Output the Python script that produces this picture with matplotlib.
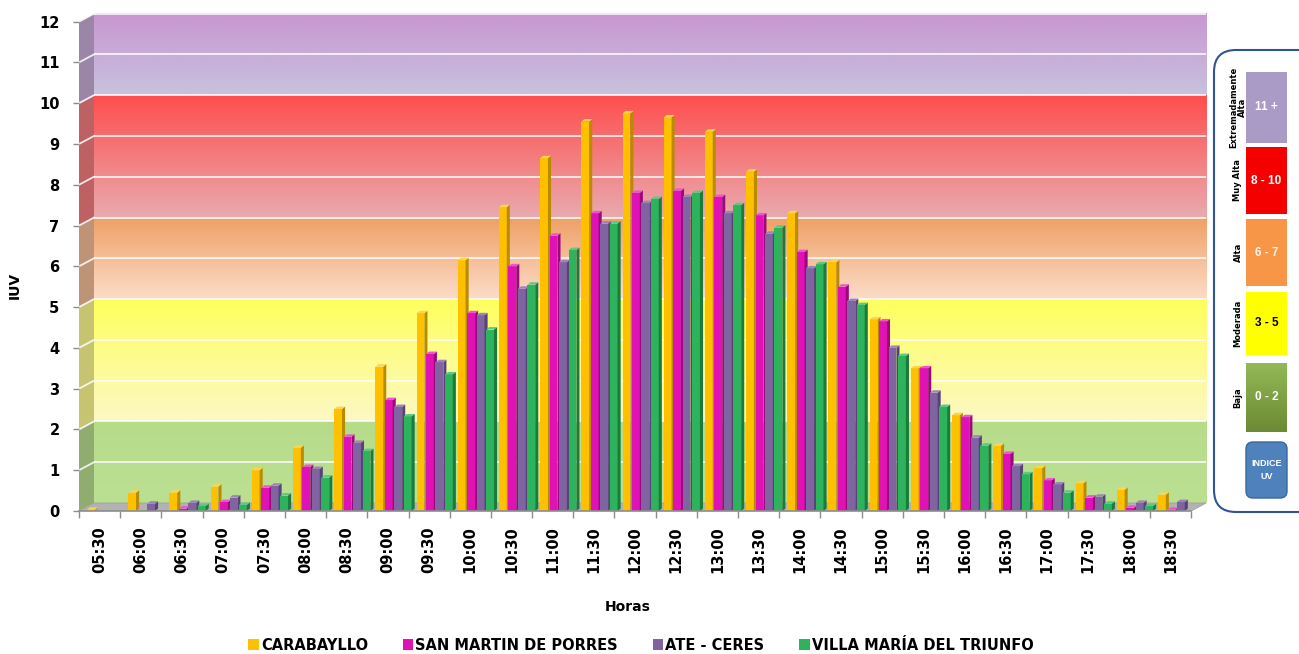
import numpy as np
import matplotlib
matplotlib.use("Agg")
import matplotlib.pyplot as plt
from matplotlib.patches import Polygon, Rectangle, FancyBboxPatch, Patch
from matplotlib.colors import to_rgb

# ---------------- data ----------------
hours = ["05:30", "06:00", "06:30", "07:00", "07:30", "08:00", "08:30", "09:00", "09:30",
         "10:00", "10:30", "11:00", "11:30", "12:00", "12:30", "13:00", "13:30", "14:00",
         "14:30", "15:00", "15:30", "16:00", "16:30", "17:00", "17:30", "18:00", "18:30"]

carabayllo = [0.03, 0.45, 0.45, 0.60, 1.00, 1.55, 2.50, 3.54, 4.85, 6.15, 7.45, 8.65, 9.55, 9.75,
              9.65, 9.30, 8.32, 7.30, 6.10, 4.70, 3.50, 2.35, 1.60, 1.05, 0.68, 0.52, 0.40]
san_martin = [0.00, 0.00, 0.06, 0.22, 0.57, 1.08, 1.82, 2.72, 3.85, 4.85, 6.00, 6.75, 7.30, 7.80,
              7.85, 7.70, 7.25, 6.35, 5.50, 4.65, 3.50, 2.30, 1.40, 0.75, 0.33, 0.08, 0.03]
ate_ceres = [0.00, 0.18, 0.20, 0.33, 0.62, 1.03, 1.67, 2.55, 3.65, 4.80, 5.45, 6.10, 7.05, 7.55,
             7.70, 7.30, 6.80, 5.95, 5.15, 4.00, 2.90, 1.80, 1.10, 0.65, 0.35, 0.20, 0.22]
villa_maria = [0.00, 0.00, 0.12, 0.15, 0.38, 0.82, 1.47, 2.32, 3.35, 4.45, 5.55, 6.40, 7.05, 7.65,
               7.80, 7.50, 6.95, 6.05, 5.05, 3.80, 2.55, 1.60, 0.90, 0.45, 0.18, 0.12, 0.00]

series_names = ["CARABAYLLO", "SAN MARTIN DE PORRES", "ATE - CERES", "VILLA MARÍA DEL TRIUNFO"]
series_values = [carabayllo, san_martin, ate_ceres, villa_maria]
series_colors = ["#FFC000", "#E011B5", "#8064A2", "#2DB35C"]
side_colors = ["#B98B00", "#9A0A7C", "#574475", "#1D7A3D"]
top_colors = ["#FFD44D", "#EE55CC", "#9B84BA", "#5CC884"]

# UV bands (lower, upper, top colour, bottom colour)
bands = [(0, 2, "#B6DC8A", "#BCE092"),
         (2, 5, "#FFFF5C", "#FCF8C4"),
         (5, 7, "#EFA066", "#FCDCC8"),
         (7, 10, "#FF4E4E", "#E9AAAE"),
         (10, 12, "#C896D2", "#C8C2DE")]

panel_levels = [("11 +", "Extremadamente\nAlta", "#A99BC6", "white"),
                ("8 - 10", "Muy Alta", "#F50000", "white"),
                ("6 - 7", "Alta", "#F79646", "#FFF3EA"),
                ("3 - 5", "Moderada", "#FFFF00", "black"),
                ("0 - 2", "Baja", "#7E9E43", "white")]

# ---------------- figure ----------------
W, H = 1299, 654
fig = plt.figure(figsize=(W / 100, H / 100), dpi=100)
plt.rcParams['font.family'] = ['DejaVu Sans']

n = len(hours)
cat_px = 41.19
px_unit = 40.78
dxd = 15 / cat_px      # depth offset of back wall (x, data units)
dyd = 8 / px_unit      # depth offset of back wall (y, data units)
ytop = 12.25
x_left_px, y0_px = 79, 511
ax = fig.add_axes([x_left_px / W, (H - y0_px) / H,
                   (n + dxd + 0.02) * cat_px / W, ytop * px_unit / H])
ax.patch.set_alpha(0)

# back wall bands with gradients
for lo, hi, ctop, cbot in bands:
    t = np.linspace(0, 1, 64)[:, None]
    c1, c2 = np.array(to_rgb(ctop)), np.array(to_rgb(cbot))
    arr = (c1[None, :] * (1 - t) + c2[None, :] * t)[:, None, :]
    ax.imshow(arr, extent=[-0.5 + dxd, n - 0.5 + dxd, lo + dyd, hi + dyd],
              aspect='auto', origin='upper', interpolation='bilinear', zorder=0)
    side = np.clip((c1 + c2) / 2 * 0.78, 0, 1)
    ax.add_patch(Polygon([(-0.5, lo), (-0.5 + dxd, lo + dyd), (-0.5 + dxd, hi + dyd), (-0.5, hi)],
                         closed=True, fc=side, ec='none', zorder=0.5))

# grid lines on back wall and side wall
for v in range(1, 13):
    ax.plot([-0.5 + dxd, n - 0.5 + dxd], [v + dyd, v + dyd], color='white', lw=1.3, alpha=0.85,
            zorder=1, solid_capstyle='butt')
    ax.plot([-0.5, -0.5 + dxd], [v, v + dyd], color='white', lw=1.3, alpha=0.85, zorder=1)

# floor
ax.add_patch(Polygon([(-0.5, 0), (n - 0.5, 0), (n - 0.5 + dxd, dyd), (-0.5 + dxd, dyd)],
                     closed=True, fc='#B2B2B2', ec='#A0A0A0', lw=0.6, zorder=1.5))

# bars with a pseudo 3-D look
bw = 0.19
offsets = [-0.21, 0.02, 0.25, 0.48]
dxb, dyb = 0.075, 0.06
x = np.arange(n)
z = 2.0
containers = []
for k in range(4):
    vals = series_values[k]
    cont = ax.bar(x + offsets[k], vals, width=bw, color=series_colors[k], label=series_names[k],
                  zorder=z, linewidth=0)
    containers.append(cont)
for i in range(n):
    for k in range(4):
        h = series_values[k][i]
        rect = containers[k].patches[i]
        z += 0.01
        rect.set_zorder(z)
        if h <= 0:
            rect.set_visible(False)
            continue
        xr = x[i] + offsets[k] + bw / 2
        xl = x[i] + offsets[k] - bw / 2
        ax.add_patch(Polygon([(xr, 0), (xr + dxb, dyb), (xr + dxb, h + dyb), (xr, h)], closed=True,
                             fc=side_colors[k], ec='none', zorder=z + 0.001))
        ax.add_patch(Polygon([(xl, h), (xr, h), (xr + dxb, h + dyb), (xl + dxb, h + dyb)], closed=True,
                             fc=top_colors[k], ec='none', zorder=z + 0.002))

ax.set_xlim(-0.5, n - 0.5 + dxd + 0.02)
ax.set_ylim(0, ytop)

# axes styling
for s in ['top', 'right', 'left']:
    ax.spines[s].set_visible(False)
ax.spines['bottom'].set_bounds(-0.5, n - 0.5)
ax.spines['bottom'].set_color('#8C8C8C')
ax.spines['bottom'].set_linewidth(1.2)
ax.spines['bottom'].set_zorder(10)
ax.set_xticks(x)
ax.set_xticklabels(hours, rotation=90, fontsize=10.5, fontweight='bold', va='top')
ax.set_xticks(np.arange(-0.5, n, 1.0), minor=True)
ax.tick_params(axis='x', which='major', length=0, pad=11)
ax.tick_params(axis='x', which='minor', length=5, color='#8C8C8C', width=1)
ax.set_yticks(range(0, 13))
ax.set_yticklabels([str(v) for v in range(0, 13)], fontsize=10.5, fontweight='bold')
ax.tick_params(axis='y', length=4, color='#8C8C8C', width=1, pad=10)

fig.text(628 / W, 1 - 607 / H, "Horas", ha='center', va='center', fontsize=10, fontweight='bold')
fig.text(15 / W, 1 - 285 / H, "IUV", ha='center', va='center', rotation=90, fontsize=10,
         fontweight='bold')

proxies = [Patch(facecolor=c, edgecolor='none') for c in series_colors]
fig.legend(handles=proxies, labels=series_names, loc='center', ncol=4,
           bbox_to_anchor=(641 / W, 1 - 645 / H), frameon=False, handlelength=0.7,
           handleheight=0.8, handletextpad=0.15, columnspacing=2.4,
           prop={'weight': 'bold', 'size': 10.5})

# ---------------- right-hand UV index panel ----------------
ov = fig.add_axes([0, 0, 1, 1], zorder=5)
ov.patch.set_alpha(0)
ov.axis('off')
ov.add_patch(FancyBboxPatch((1214, 50), 110, 462, boxstyle="round,pad=0,rounding_size=22",
                            fc='white', ec='#2F5597', lw=1.5))
box_rows = [(72, 143), (147, 214), (219, 286), (292, 355), (363, 432)]
cond = ['Liberation Sans', 'DejaVu Sans']
for (y1, y2), (lab, name, col, tcol) in zip(box_rows, panel_levels):
    if name == "Baja":
        t = np.linspace(0, 1, 32)[:, None]
        c1, c2 = np.array(to_rgb("#93B856")), np.array(to_rgb("#6C8A33"))
        arr = (c1[None, :] * (1 - t) + c2[None, :] * t)[:, None, :]
        ov.imshow(arr, extent=[1246, 1287, y2, y1], origin='upper', aspect='auto', zorder=2)
    else:
        ov.add_patch(Rectangle((1246, y1), 41, y2 - y1, fc=col, ec='none', zorder=2))
    ov.text(1266.5, (y1 + y2) / 2, lab, ha='center', va='center', color=tcol, fontsize=8.5,
            fontweight='bold', family=cond, zorder=3)
    ov.text(1238, (y1 + y2) / 2, name, ha='center', va='center', rotation=90, fontsize=6,
            fontweight='bold', linespacing=0.95, zorder=3)
ov.add_patch(FancyBboxPatch((1246, 442), 41, 56, boxstyle="round,pad=0,rounding_size=7",
                            fc='#4F81BD', ec='#3A6698', lw=1.0, zorder=2))
ov.text(1266.5, 470, "INDICE\nUV", ha='center', va='center', color='white', fontsize=6.5,
        fontweight='bold', family=cond, linespacing=1.5, zorder=3)
ov.set_xlim(0, W)
ov.set_ylim(H, 0)

fig.savefig("out.png", dpi=100)
